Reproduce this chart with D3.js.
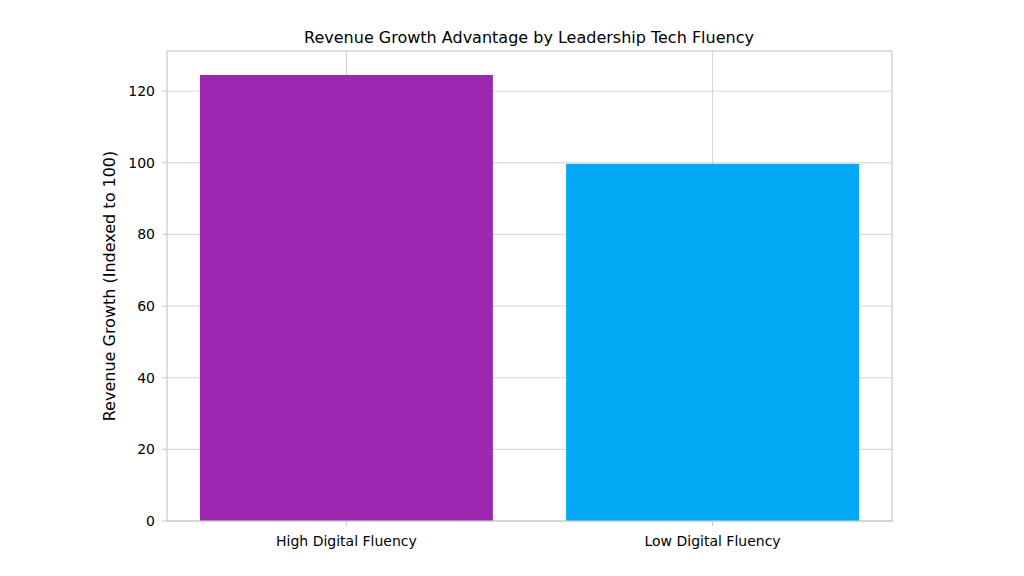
<!DOCTYPE html><html><head><script src="https://d3js.org/d3.v7.min.js"></script>
<style>body{margin:0;background:#fff}text{font-family:"DejaVu Sans",sans-serif;fill:#000}</style></head><body>
<svg id="c" width="1024" height="576"></svg>
<script>
const categories=["High Digital Fluency","Low Digital Fluency"];
const values=[124.5,99.7];
const colors=["#9C27B0","#03A9F4"];
const yTicks=[0,20,40,60,80,100,120];
const svg=d3.select("#c");
const L=167,R=892,T=51,B=521;
const x=d3.scaleLinear().domain([-0.49,1.49]).range([L,R]);
const y=d3.scaleLinear().domain([0,131.2]).range([B,T]);
const g=svg.append("g");
yTicks.forEach(t=>g.append("line").attr("x1",L).attr("x2",R).attr("y1",y(t)).attr("y2",y(t)).attr("stroke","#d3d3d3").attr("stroke-width",1));
categories.forEach((c,i)=>g.append("line").attr("x1",x(i)).attr("x2",x(i)).attr("y1",T).attr("y2",B).attr("stroke","#d3d3d3"));
categories.forEach((c,i)=>g.append("rect").attr("x",x(i-0.4)).attr("width",x(0.4)-x(-0.4)).attr("y",y(values[i])).attr("height",B-y(values[i])).attr("fill",colors[i]));
g.append("rect").attr("x",L).attr("y",T).attr("width",R-L).attr("height",B-T).attr("fill","none").attr("stroke","#c8c8c8").attr("stroke-width",1.2);
yTicks.forEach(t=>{g.append("line").attr("x1",L-5).attr("x2",L).attr("y1",y(t)).attr("y2",y(t)).attr("stroke","#c8c8c8");
g.append("text").attr("x",L-12).attr("y",y(t)).attr("dy","0.35em").attr("text-anchor","end").attr("font-size",14).text(t);});
categories.forEach((c,i)=>{g.append("line").attr("x1",x(i)).attr("x2",x(i)).attr("y1",B).attr("y2",B+5).attr("stroke","#c8c8c8");
g.append("text").attr("x",x(i)).attr("y",546).attr("text-anchor","middle").attr("font-size",14).text(c);});
svg.append("text").attr("x",529).attr("y",43).attr("text-anchor","middle").attr("font-size",16).text("Revenue Growth Advantage by Leadership Tech Fluency");
svg.append("text").attr("transform","translate(115,286) rotate(-90)").attr("text-anchor","middle").attr("font-size",16).text("Revenue Growth (Indexed to 100)");
</script></body></html>
